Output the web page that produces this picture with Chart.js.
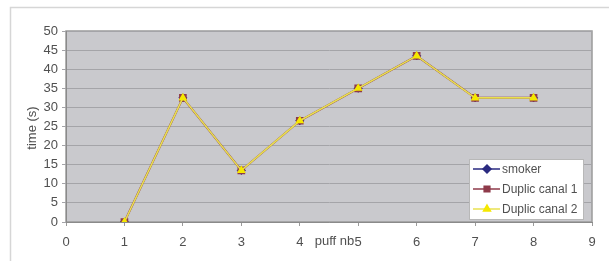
<!DOCTYPE html>
<html>
<head>
<meta charset="utf-8">
<script src="https://cdn.jsdelivr.net/npm/chart.js@4/dist/chart.umd.min.js"></script>
<style>
  html, body { margin: 0; padding: 0; background: #fff; }
  #wrap { width: 609px; height: 261px; position: relative; }
</style>
</head>
<body>
<div id="wrap"><canvas id="line-chart" width="609" height="261"></canvas></div>
<script>
var puffs = [1, 2, 3, 4, 5, 6, 7, 8];
var smoker = [0, 32.5, 13.5, 26.5, 35, 43.5, 32.5, 32.5];
var canal1 = [0, 32.5, 13.5, 26.5, 35, 43.5, 32.5, 32.5];
var canal2 = [0, 32.5, 13.5, 26.5, 35, 43.5, 32.5, 32.5];
var seriesNames = ["smoker", "Duplic canal 1", "Duplic canal 2"];
var xTitle = "puff nb";
var yTitle = "time (s)";

function pts(vals) {
  return puffs.map(function (p, i) { return {x: p, y: vals[i]}; });
}

var FONT = "Liberation Sans, Arial, sans-serif";
var TXT = "#505050";

// frame, plot background, axis titles and legend
var decor = {
  id: "decor",
  beforeDraw: function (chart) {
    var ctx = chart.ctx, a = chart.chartArea;
    ctx.save();
    ctx.fillStyle = "#fff";
    ctx.fillRect(0, 0, chart.width, chart.height);
    ctx.strokeStyle = "#d6d6d6";
    ctx.lineWidth = 1.5;
    ctx.beginPath();
    ctx.moveTo(10.5, 262);
    ctx.lineTo(10.5, 7.5);
    ctx.lineTo(612, 7.5);
    ctx.stroke();
    ctx.fillStyle = "#c9c9cd";
    ctx.fillRect(a.left, a.top, a.right - a.left, a.bottom - a.top);
    ctx.strokeStyle = "#9a9a9a";
    ctx.lineWidth = 1.5;
    ctx.strokeRect(a.left, a.top, a.right - a.left, a.bottom - a.top);
    ctx.restore();
  },
  afterDraw: function (chart) {
    var ctx = chart.ctx, xs = chart.scales.x;
    ctx.save();
    ctx.font = "13px " + FONT;
    ctx.fillStyle = TXT;
    ctx.textAlign = "right";
    ctx.textBaseline = "middle";
    ctx.fillText(xTitle, xs.getPixelForValue(5) - 4, 241);

    ctx.save();
    ctx.translate(32, 128);
    ctx.rotate(-Math.PI / 2);
    ctx.textAlign = "center";
    ctx.fillText(yTitle, 0, 0);
    ctx.restore();

    // legend
    var lx = 469, ly = 159, lw = 114, lh = 60;
    ctx.font = "12px " + FONT;
    ctx.fillStyle = "#fff";
    ctx.fillRect(lx, ly, lw, lh);
    ctx.strokeStyle = "#b8b8b8";
    ctx.lineWidth = 1;
    ctx.strokeRect(lx + 0.5, ly + 0.5, lw, lh);
    chart.data.datasets.forEach(function (ds, i) {
      var y = ly + 10 + i * 20;
      ctx.strokeStyle = ds.borderColor;
      ctx.lineWidth = 1.5;
      ctx.beginPath();
      ctx.moveTo(lx + 4, y);
      ctx.lineTo(lx + 31, y);
      ctx.stroke();
      ctx.fillStyle = ds.pointBackgroundColor;
      ctx.strokeStyle = ds.pointBorderColor;
      Chart.helpers.drawPoint(ctx, {pointStyle: ds.pointStyle, radius: 4, borderWidth: 1}, lx + 18, y);
      ctx.fillStyle = TXT;
      ctx.textAlign = "left";
      ctx.fillText(ds.label, lx + 33, y + 1);
    });
    ctx.restore();
  }
};

var chart = new Chart(document.getElementById("line-chart"), {
  type: "scatter",
  data: {
    datasets: [{
      label: seriesNames[0],
      data: pts(smoker),
      borderColor: "#2a2a80",
      pointBackgroundColor: "#2a2a80",
      pointBorderColor: "#2a2a80",
      pointStyle: "rectRot",
      pointRadius: 4,
      borderWidth: 1,
      showLine: true,
      order: 2
    }, {
      label: seriesNames[1],
      data: pts(canal1),
      borderColor: "#8e3a4a",
      pointBackgroundColor: "#8e3a4a",
      pointBorderColor: "#8e3a4a",
      pointStyle: "rect",
      pointRadius: 4,
      borderWidth: 2,
      showLine: true,
      order: 1
    }, {
      label: seriesNames[2],
      data: pts(canal2),
      borderColor: "#e8e050",
      pointBackgroundColor: "#f5e800",
      pointBorderColor: "#f5e800",
      pointStyle: "triangle",
      pointRadius: 3.5,
      borderWidth: 1.6,
      showLine: true,
      order: 0
    }]
  },
  options: {
    responsive: false,
    animation: false,
    layout: {padding: {left: 0, right: 17, top: 31, bottom: 0}},
    plugins: {
      legend: {display: false},
      tooltip: {enabled: false}
    },
    scales: {
      x: {
        type: "linear",
        min: 0,
        max: 9,
        ticks: {stepSize: 1, color: TXT, font: {family: FONT, size: 13}, padding: 9},
        grid: {drawOnChartArea: false, drawTicks: true, tickLength: 4, color: "#9a9a9a"},
        border: {color: "#8a8a8a"},
        afterFit: function (s) { s.height = 39; }
      },
      y: {
        type: "linear",
        min: 0,
        max: 50,
        ticks: {stepSize: 5, color: TXT, font: {family: FONT, size: 13}, padding: 4},
        grid: {color: "#a4a4a8", tickLength: 4},
        border: {color: "#8a8a8a"},
        afterFit: function (s) { s.width = 66; }
      }
    }
  },
  plugins: [decor]
});
</script>
</body>
</html>
